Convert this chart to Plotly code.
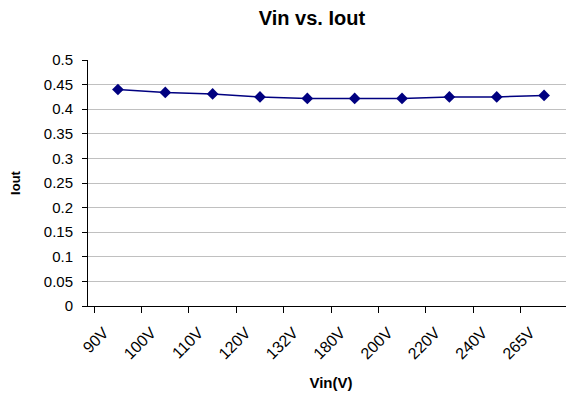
import plotly.graph_objects as go

categories = ["90V", "100V", "110V", "120V", "132V", "180V", "200V", "220V", "240V", "265V"]
iout = [0.440, 0.434, 0.431, 0.425, 0.422, 0.422, 0.422, 0.425, 0.425, 0.428]
y_ticks = [0, 0.05, 0.1, 0.15, 0.2, 0.25, 0.3, 0.35, 0.4, 0.45, 0.5]
y_tick_labels = ["0", "0.05", "0.1", "0.15", "0.2", "0.25", "0.3", "0.35", "0.4", "0.45", "0.5"]

fig = go.Figure()
fig.add_trace(go.Scatter(
    x=categories, y=iout, mode="lines+markers",
    line=dict(color="#000080", width=1.5),
    marker=dict(symbol="diamond", size=9, color="#000080"),
    showlegend=False,
))

font = "Liberation Sans, Arial, sans-serif"
fig.update_layout(
    width=566, height=395,
    margin=dict(l=80, r=0, t=52, b=97, autoexpand=False),
    paper_bgcolor="white", plot_bgcolor="white",
    font=dict(family=font, color="black", size=14),
    title=dict(text="<b>Vin vs. Iout</b>", x=0.537, xanchor="center", y=0.975, yanchor="middle",
               font=dict(size=20, family=font, color="black")),
)
fig.update_xaxes(
    type="category", tickangle=-45, tickson="boundaries",
    ticks="outside", ticklen=6, tickcolor="black",
    showline=True, linecolor="black", linewidth=1,
    showgrid=False, tickfont=dict(size=16), automargin=False,
    ticklabelstandoff=10, ticklabelshift=-14,
    title=dict(text="<b>Vin(V)</b>", font=dict(size=15), standoff=16),
)
fig.update_yaxes(
    range=[0, 0.5], tickvals=y_ticks, ticktext=y_tick_labels,
    ticks="outside", ticklen=5, tickcolor="black",
    showline=True, linecolor="black", linewidth=1,
    showgrid=True, gridcolor="#c0c0c0", gridwidth=1,
    zeroline=False, tickfont=dict(size=15), automargin=False,
    ticklabelstandoff=6,
    title=dict(text="<b>Iout</b>", font=dict(size=13), standoff=20),
)

fig.write_html("out.html")
